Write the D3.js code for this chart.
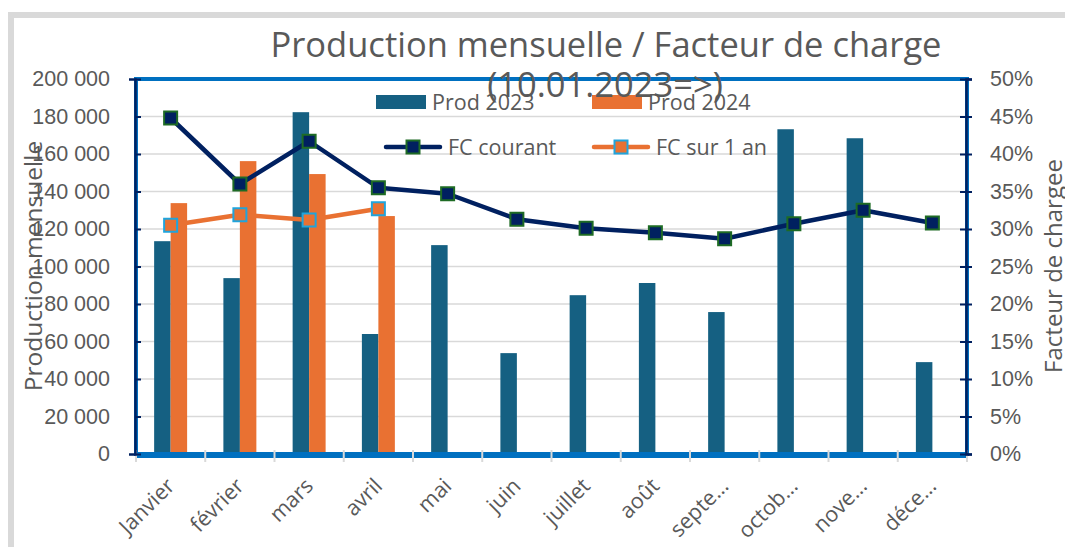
<!DOCTYPE html>
<html lang="fr">
<head>
<meta charset="utf-8">
<script src="https://cdn.jsdelivr.net/npm/d3@7"></script>
<style>
  body { margin: 0; background: #fff; font-family: "Open Sans", "Liberation Sans", sans-serif; }
  svg text { fill: #595959; }
</style>
</head>
<body>
<svg id="chart" width="1065" height="547"></svg>
<script>
// données
var months = ["Janvier", "février", "mars", "avril", "mai", "juin", "juillet", "août", "septe…", "octob…", "nove…", "déce…"];
var prod2023 = [113500, 93800, 182300, 64000, 111400, 53800, 84700, 91200, 75700, 173200, 168400, 49000];
var prod2024 = [133800, 156200, 149300, 126900];
var fcCourant = [0.448, 0.360, 0.417, 0.355, 0.347, 0.313, 0.301, 0.295, 0.287, 0.307, 0.325, 0.308];
var fcAn = [0.305, 0.319, 0.312, 0.327];
var prodTicks = d3.range(0, 200001, 20000);
var pctTicks = d3.range(0, 0.5001, 0.05);

var svg = d3.select("#chart");
var pLeft = 136, pRight = 967, pTop = 79, pBottom = 454;

var fr = d3.formatLocale({decimal: ",", thousands: " ", grouping: [3], currency: ["", ""]});
var fmtProd = fr.format(",d");
var fmtPct = d3.format(".0%");

// cadre gris du graphique
svg.append("rect")
    .attr("x", 11).attr("y", 15)
    .attr("width", 1100).attr("height", 600)
    .attr("fill", "#fff")
    .attr("stroke", "#d9d9d9")
    .attr("stroke-width", 6);

var x = d3.scaleBand().domain(months).range([pLeft, pRight]);
var xs = d3.scaleBand().domain(["2023", "2024"]).range([0, x.bandwidth()]).paddingInner(0).paddingOuter(1.1);
var y = d3.scaleLinear().domain([0, 200000]).range([pBottom, pTop]);
var y2 = d3.scaleLinear().domain([0, 0.5]).range([pBottom, pTop]);

// grille
svg.append("g")
    .selectAll("line")
    .data(prodTicks)
    .enter().append("line")
      .attr("x1", pLeft).attr("x2", pRight)
      .attr("y1", function(d) { return y(d); })
      .attr("y2", function(d) { return y(d); })
      .attr("stroke", "#d9d9d9")
      .attr("stroke-width", 1.5);

// barres
svg.append("g")
    .selectAll("rect")
    .data(prod2023)
    .enter().append("rect")
      .attr("x", function(d, i) { return x(months[i]) + xs("2023"); })
      .attr("y", function(d) { return y(d); })
      .attr("width", xs.bandwidth())
      .attr("height", function(d) { return pBottom - y(d); })
      .attr("fill", "#156082");

svg.append("g")
    .selectAll("rect")
    .data(prod2024)
    .enter().append("rect")
      .attr("x", function(d, i) { return x(months[i]) + xs("2024"); })
      .attr("y", function(d) { return y(d); })
      .attr("width", xs.bandwidth())
      .attr("height", function(d) { return pBottom - y(d); })
      .attr("fill", "#e97132");

// bordure bleue de la zone de tracé
svg.append("rect")
    .attr("x", pLeft).attr("y", pTop)
    .attr("width", pRight - pLeft).attr("height", pBottom - pTop)
    .attr("fill", "none")
    .attr("stroke", "#0070c0")
    .attr("stroke-width", 4);
svg.append("line")
    .attr("x1", pLeft).attr("x2", pRight)
    .attr("y1", pBottom + 3).attr("y2", pBottom + 3)
    .attr("stroke", "#0070c0").attr("stroke-width", 2);

// graduations de l'axe des catégories
svg.append("g")
    .selectAll("line")
    .data(d3.range(months.length + 1))
    .enter().append("line")
      .attr("x1", function(i) { return pLeft + i * x.step(); })
      .attr("x2", function(i) { return pLeft + i * x.step(); })
      .attr("y1", pBottom - 4).attr("y2", pBottom + 8)
      .attr("stroke", "#d9d9d9").attr("stroke-width", 2);

// libellés des mois
svg.append("g")
    .selectAll("text")
    .data(months)
    .enter().append("text")
      .attr("transform", function(d) { return "translate(" + (x(d) + x.bandwidth() / 2) + "," + (pBottom + 28) + ")rotate(-45)"; })
      .attr("text-anchor", "end")
      .attr("dy", "0.35em")
      .style("font-size", "21.5px")
      .text(function(d) { return d; });

// axe gauche
var axL = svg.append("g")
    .attr("transform", "translate(" + (pLeft - 1) + ",0)")
    .call(d3.axisLeft(y).tickValues(prodTicks).tickFormat(fmtProd).tickSize(6).tickPadding(19));
axL.select(".domain").attr("stroke", "#002060").attr("stroke-width", 2.5);
axL.selectAll(".tick line").attr("x2", 6).attr("stroke", "#002060").attr("stroke-width", 2);
axL.selectAll(".tick text").style("font-size", "21.5px").attr("fill", "#595959");

// axe droit
var axR = svg.append("g")
    .attr("transform", "translate(" + (pRight - 1) + ",0)")
    .call(d3.axisRight(y2).tickValues(pctTicks).tickFormat(fmtPct).tickSize(6).tickPadding(18));
axR.select(".domain").attr("stroke", "#002060").attr("stroke-width", 2.5);
axR.selectAll(".tick line").attr("x2", 6).attr("x1", -6).attr("stroke", "#002060").attr("stroke-width", 2);
axR.selectAll(".tick text").style("font-size", "21.5px").attr("fill", "#595959");

// courbes
var cx = function(d, i) { return x(months[i]) + x.bandwidth() / 2; };
var line = d3.line().x(cx).y(function(d) { return y2(d); });

function drawSeries(data, color, mFill, mStroke) {
  svg.append("path")
      .datum(data)
      .attr("d", line)
      .attr("fill", "none")
      .attr("stroke", color)
      .attr("stroke-width", 4.5)
      .attr("stroke-linejoin", "round");
  svg.append("g")
      .selectAll("rect")
      .data(data)
      .enter().append("rect")
        .attr("x", function(d, i) { return cx(d, i) - 6.5; })
        .attr("y", function(d) { return y2(d) - 6.5; })
        .attr("width", 13).attr("height", 13)
        .attr("fill", mFill)
        .attr("stroke", mStroke)
        .attr("stroke-width", 2);
}
drawSeries(fcAn, "#e97132", "#e97132", "#20a4dc");
drawSeries(fcCourant, "#002060", "#002060", "#1e6b24");

// titres des axes
svg.append("text")
    .attr("transform", "translate(42,266)rotate(-90)")
    .attr("text-anchor", "middle")
    .style("font-size", "24.5px")
    .text("Production mensuelle");
svg.append("text")
    .attr("transform", "translate(1062,266)rotate(-90)")
    .attr("text-anchor", "middle")
    .style("font-size", "24px")
    .text("Facteur de chargee");

// légende
var legend = [
  {name: "Prod 2023", type: "bar", color: "#156082", x: 376, y: 102},
  {name: "Prod 2024", type: "bar", color: "#e97132", x: 592, y: 102},
  {name: "FC courant", type: "line", color: "#002060", mStroke: "#1e6b24", x: 386, y: 147},
  {name: "FC sur 1 an", type: "line", color: "#e97132", mStroke: "#20a4dc", x: 594, y: 147}
];
var lg = svg.append("g").selectAll("g").data(legend).enter().append("g");
lg.filter(function(d) { return d.type === "bar"; }).append("rect")
    .attr("x", function(d) { return d.x; })
    .attr("y", function(d) { return d.y - 7; })
    .attr("width", 50).attr("height", 14)
    .attr("fill", function(d) { return d.color; });
var ll = lg.filter(function(d) { return d.type === "line"; });
ll.append("line")
    .attr("x1", function(d) { return d.x; })
    .attr("x2", function(d) { return d.x + 54; })
    .attr("y1", function(d) { return d.y; })
    .attr("y2", function(d) { return d.y; })
    .attr("stroke", function(d) { return d.color; })
    .attr("stroke-width", 4.5)
    .attr("stroke-linecap", "round");
ll.append("rect")
    .attr("x", function(d) { return d.x + 27 - 6.5; })
    .attr("y", function(d) { return d.y - 6.5; })
    .attr("width", 13).attr("height", 13)
    .attr("fill", function(d) { return d.color; })
    .attr("stroke", function(d) { return d.mStroke; })
    .attr("stroke-width", 2);
lg.append("text")
    .attr("x", function(d) { return d.x + (d.type === "bar" ? 56 : 62); })
    .attr("y", function(d) { return d.y; })
    .attr("dy", "0.35em")
    .style("font-size", "21.5px")
    .text(function(d) { return d.name; });

// titre
svg.append("text")
    .attr("x", 606).attr("y", 57)
    .attr("text-anchor", "middle")
    .style("font-size", "34.5px")
    .text("Production mensuelle / Facteur de charge");
svg.append("text")
    .attr("x", 605).attr("y", 97)
    .attr("text-anchor", "middle")
    .style("font-size", "34.5px")
    .text("(10.01.2023=>)");
</script>
</body>
</html>
